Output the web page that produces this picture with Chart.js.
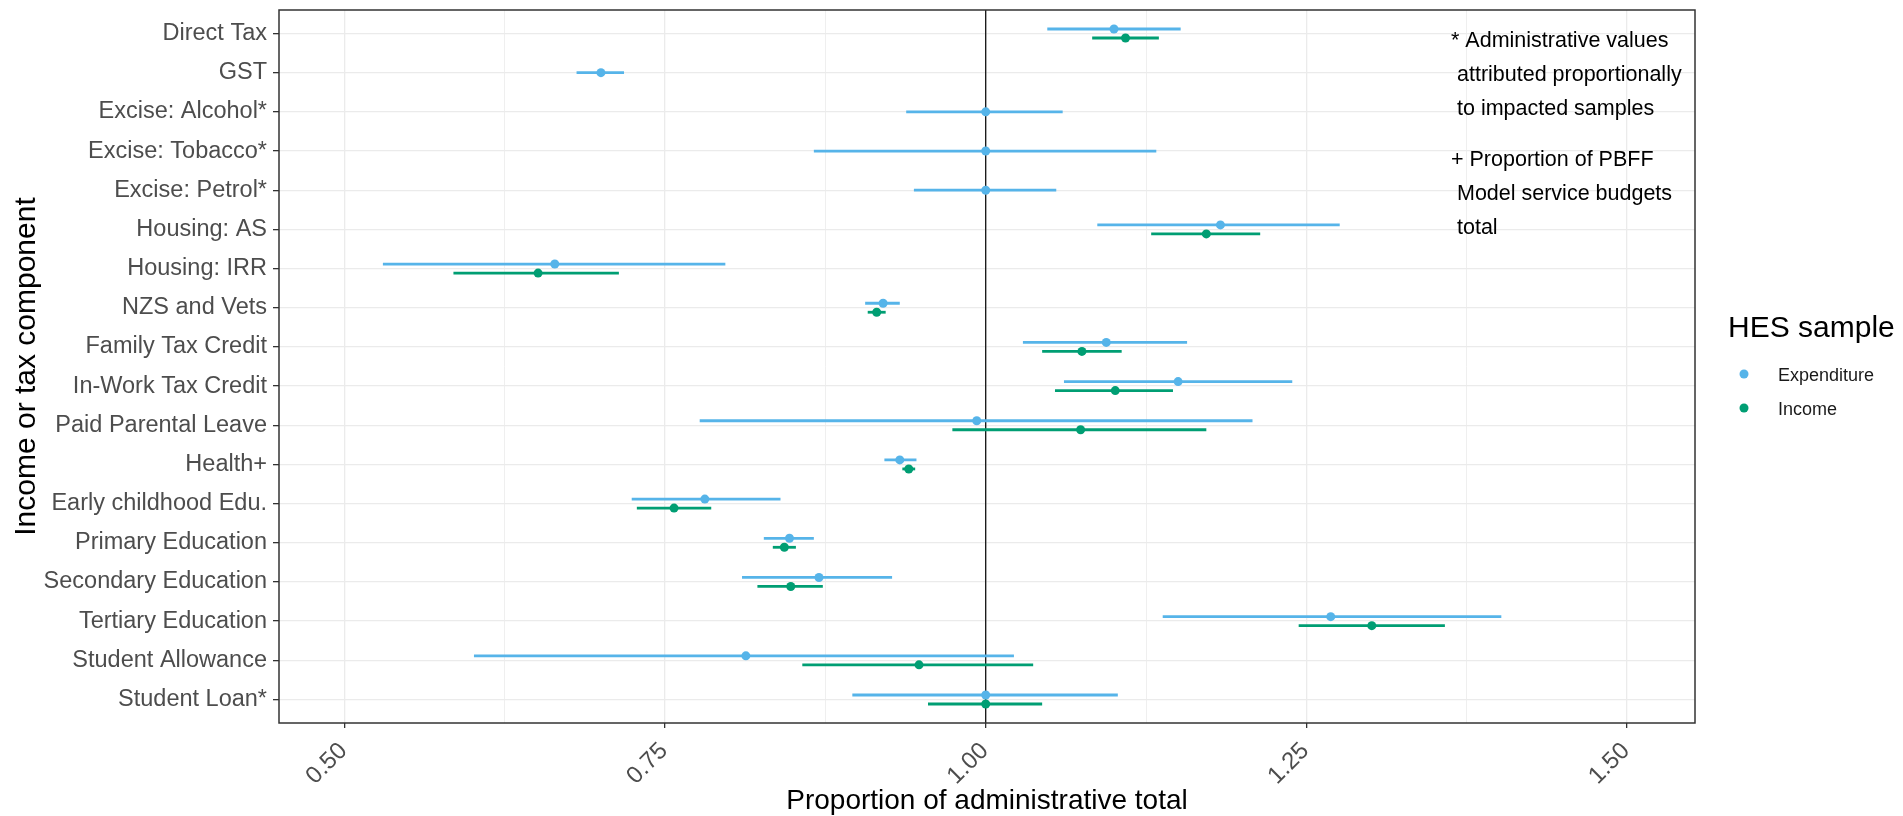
<!DOCTYPE html>
<html>
<head>
<meta charset="utf-8">
<script src="https://cdn.jsdelivr.net/npm/chart.js@4.4.1/dist/chart.umd.min.js"></script>
<style>
  html, body { margin: 0; padding: 0; background: #fff; }
  canvas { display: block; }
</style>
</head>
<body>
<canvas id="chart" width="1903" height="816"></canvas>
<script>
// Income / tax components, top to bottom
const categories = [
    'Direct Tax', 'GST', 'Excise: Alcohol*', 'Excise: Tobacco*', 'Excise: Petrol*',
    'Housing: AS', 'Housing: IRR', 'NZS and Vets', 'Family Tax Credit', 'In-Work Tax Credit',
    'Paid Parental Leave', 'Health+', 'Early childhood Edu.', 'Primary Education',
    'Secondary Education', 'Tertiary Education', 'Student Allowance', 'Student Loan*'
];

// Expenditure sample: estimate and interval bounds
const expMid  = [1.100, 0.700, 1.000, 1.000, 1.000, 1.183, 0.664, 0.920, 1.094, 1.150, 0.993, 0.933, 0.781, 0.847, 0.870, 1.269, 0.813, 1.000];
const expLow  = [1.048, 0.681, 0.938, 0.866, 0.944, 1.087, 0.530, 0.906, 1.029, 1.061, 0.777, 0.921, 0.724, 0.827, 0.810, 1.138, 0.601, 0.896];
const expHigh = [1.152, 0.718, 1.060, 1.133, 1.055, 1.276, 0.797, 0.933, 1.157, 1.239, 1.208, 0.946, 0.840, 0.866, 0.927, 1.402, 1.022, 1.103];

// Income sample (no estimate for GST and excise)
const incMid  = [1.109, null, null, null, null, 1.172, 0.651, 0.915, 1.075, 1.101, 1.074, 0.940, 0.757, 0.843, 0.848, 1.301, 0.948, 1.000];
const incLow  = [1.083, null, null, null, null, 1.129, 0.585, 0.908, 1.044, 1.054, 0.974, 0.935, 0.728, 0.834, 0.822, 1.244, 0.857, 0.955];
const incHigh = [1.135, null, null, null, null, 1.214, 0.714, 0.922, 1.106, 1.146, 1.172, 0.945, 0.786, 0.852, 0.873, 1.358, 1.037, 1.044];

// x axis: labelled breaks and minor breaks
const xMajor = [0.50, 0.75, 1.00, 1.25, 1.50];
const xMajorLabels = ['0.50', '0.75', '1.00', '1.25', '1.50'];
const xMinor = [0.625, 0.875, 1.125, 1.375];
const refValue = 1;

const seriesNames = ['Expenditure', 'Income'];
const legendTitle = 'HES sample';
const noteAdmin = ['* Administrative values', ' attributed proportionally', ' to impacted samples'];
const notePbff = ['+ Proportion of PBFF', ' Model service budgets', ' total'];

const FONT = "'Liberation Sans', Arial, Helvetica, sans-serif";
const BLUE = '#56B4E9';
const GREEN = '#009E73';
const DODGE = 0.115;

function buildPoints(mid, low, high, offset) {
    const pts = [];
    mid.forEach((v, i) => {
        if (v == null) return;
        const both = expMid[i] != null && incMid[i] != null;
        pts.push({ x: v, y: i + (both ? offset : 0), low: low[i], high: high[i] });
    });
    return pts;
}

const isMajor = v => xMajor.some(m => Math.abs(m - v) < 1e-6);

const panelPlugin = {
    id: 'panel',
    beforeDatasetsDraw(chart) {
        const { ctx, chartArea: a, scales: { x } } = chart;
        ctx.save();
        // reference line at 1.00
        const px = x.getPixelForValue(refValue);
        ctx.strokeStyle = '#000';
        ctx.lineWidth = 1.2;
        ctx.beginPath();
        ctx.moveTo(px, a.top);
        ctx.lineTo(px, a.bottom);
        ctx.stroke();
        // interval whiskers
        chart.data.datasets.forEach((ds, di) => {
            const meta = chart.getDatasetMeta(di);
            ctx.strokeStyle = ds.backgroundColor;
            ctx.lineWidth = 2.8;
            meta.data.forEach((pt, i) => {
                const r = ds.data[i];
                ctx.beginPath();
                ctx.moveTo(x.getPixelForValue(r.low), pt.y);
                ctx.lineTo(x.getPixelForValue(r.high), pt.y);
                ctx.stroke();
            });
        });
        ctx.restore();
    },
    afterDatasetsDraw(chart) {
        const { ctx, chartArea: a } = chart;
        ctx.save();
        ctx.strokeStyle = '#333333';
        ctx.lineWidth = 1.5;
        ctx.strokeRect(a.left, a.top, a.right - a.left, a.bottom - a.top);
        ctx.restore();
    },
    afterDraw(chart) {
        const { ctx } = chart;
        ctx.save();
        ctx.textBaseline = 'alphabetic';
        ctx.textAlign = 'left';

        // notes inside the panel
        ctx.fillStyle = '#000';
        ctx.font = `21.5px ${FONT}`;
        noteAdmin.forEach((t, i) => ctx.fillText(t, 1451, 47 + i * 34));
        notePbff.forEach((t, i) => ctx.fillText(t, 1451, 166 + i * 34));

        // legend
        ctx.font = `30px ${FONT}`;
        ctx.fillText(legendTitle, 1728, 337);
        ctx.font = `18px ${FONT}`;
        chart.data.datasets.forEach((ds, i) => {
            const cy = 374 + i * 34;
            ctx.fillStyle = ds.backgroundColor;
            ctx.beginPath();
            ctx.arc(1744, cy, 4.5, 0, Math.PI * 2);
            ctx.fill();
            ctx.fillStyle = '#1a1a1a';
            ctx.fillText(ds.label, 1778, cy + 7);
        });
        ctx.restore();
    }
};

new Chart(document.getElementById('chart'), {
    type: 'scatter',
    data: {
        datasets: [
            {
                label: seriesNames[0],
                data: buildPoints(expMid, expLow, expHigh, -DODGE),
                backgroundColor: BLUE,
                borderWidth: 0,
                pointRadius: 4.5,
            },
            {
                label: seriesNames[1],
                data: buildPoints(incMid, incLow, incHigh, DODGE),
                backgroundColor: GREEN,
                borderWidth: 0,
                pointRadius: 4.5,
            }
        ]
    },
    options: {
        responsive: false,
        devicePixelRatio: 1,
        animation: false,
        layout: { padding: { top: 10, right: 208, left: 0, bottom: 0 } },
        plugins: {
            legend: { display: false },
            tooltip: { enabled: false }
        },
        scales: {
            x: {
                type: 'linear',
                min: 0.449,
                max: 1.553,
                afterBuildTicks: s => { s.ticks = xMajor.concat(xMinor).sort((a, b) => a - b).map(v => ({ value: v })); },
                afterFit: s => { s.height = 93; s.paddingLeft = 0; s.paddingRight = 0; },
                border: { display: false },
                grid: {
                    color: '#EBEBEB',
                    lineWidth: c => isMajor(c.tick.value) ? 1.3 : 0.8,
                    tickLength: 5,
                    tickColor: c => isMajor(c.tick.value) ? '#333333' : 'rgba(0,0,0,0)',
                },
                ticks: {
                    autoSkip: false,
                    minRotation: 45,
                    maxRotation: 45,
                    padding: 9,
                    labelOffset: -1,
                    color: '#4D4D4D',
                    font: { family: FONT, size: 24 },
                    callback: v => {
                        const i = xMajor.findIndex(m => Math.abs(m - v) < 1e-6);
                        return i >= 0 ? xMajorLabels[i] : '';
                    }
                },
                title: {
                    display: true,
                    text: 'Proportion of administrative total',
                    color: '#000',
                    font: { family: FONT, size: 28, lineHeight: 1 },
                    padding: { top: 0, bottom: 1 }
                }
            },
            y: {
                type: 'linear',
                reverse: true,
                min: -0.6,
                max: categories.length - 0.4,
                afterBuildTicks: s => { s.ticks = categories.map((_, i) => ({ value: i })); },
                afterFit: s => { s.width = 279; s.paddingTop = 0; s.paddingBottom = 0; },
                border: { display: false },
                grid: {
                    color: '#EBEBEB',
                    lineWidth: 1.3,
                    tickLength: 6,
                    tickColor: '#333333',
                },
                ticks: {
                    autoSkip: false,
                    padding: 6,
                    color: '#4D4D4D',
                    font: { family: FONT, size: 23.5 },
                    callback: (v, i) => categories[i]
                },
                title: {
                    display: true,
                    text: 'Income or tax component',
                    color: '#000',
                    font: { family: FONT, size: 30, lineHeight: 1 },
                    padding: { top: 12, bottom: 0 }
                }
            }
        }
    },
    plugins: [panelPlugin]
});
</script>
</body>
</html>
